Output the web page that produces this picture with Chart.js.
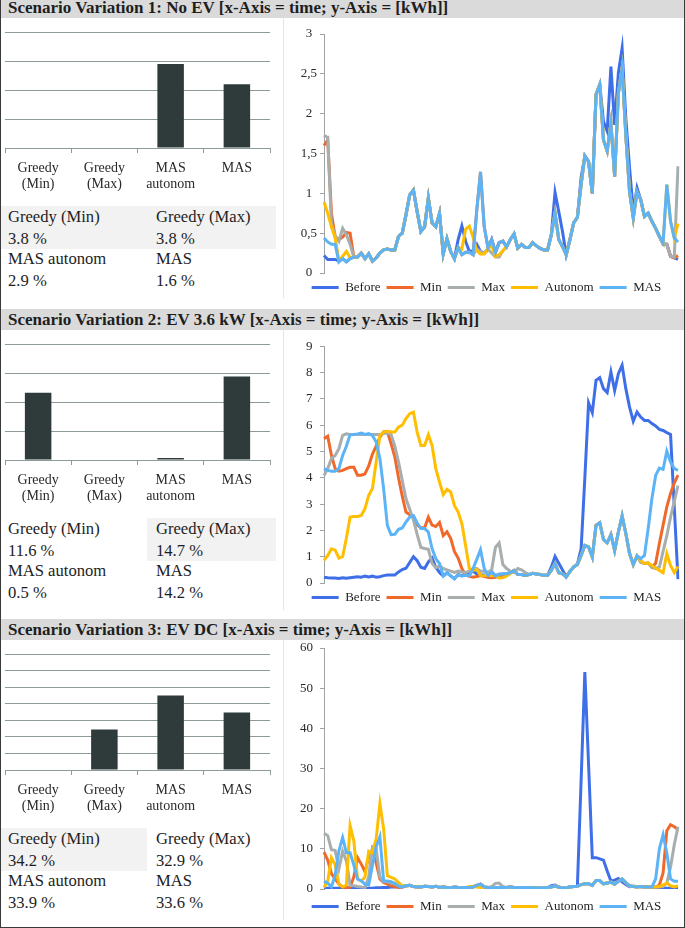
<!DOCTYPE html>
<html>
<head>
<meta charset="utf-8">
<script src="https://cdn.jsdelivr.net/npm/chart.js@4.4.0/dist/chart.umd.min.js"></script>
<style>
  html, body { margin: 0; padding: 0; background: #fff; }
  body { width: 685px; height: 928px; position: relative; overflow: hidden;
         font-family: 'Liberation Serif', serif; color: #1e1e1e; }
  .frame { position: absolute; left: 0; top: -4px; width: 685px; height: 932px;
           border: 1px solid #3a3a3a; box-sizing: border-box; pointer-events: none; z-index: 5; }
  .head { position: absolute; left: 0; width: 685px; background: #dadada;
          font-weight: bold; font-size: 17px; padding-left: 8px; box-sizing: border-box; white-space: nowrap; }
  .shade { position: absolute; background: #f2f2f2; }
  .cell { position: absolute; font-size: 16.6px; line-height: 20px; white-space: nowrap; }
  .rpanel { position: absolute; left: 283px; width: 1px; background: #e6e6e6; }
  canvas { position: absolute; }
</style>
</head>
<body>
<div class="frame"></div>
<div id="page"></div>
<script>
/* ════════════════════════════════════════════════════════════════════
   Scenario variations: share bars + load curves (before / min / max /
   autonom / MAS) for three EV scenarios.
════════════════════════════════════════════════════════════════════ */

const FONT = "'Liberation Serif', serif";

// ── bar chart data ──
const barCats = [['Greedy', '(Min)'], ['Greedy', '(Max)'], ['MAS', 'autonom'], ['MAS']];
const s1Bars = [0, 0, 2.9, 2.2];
const s2Bars = [2.32, 0, 0.07, 2.88];
const s3Bars = [0, 2.45, 4.49, 3.47];

// ── table under the bars ──
const tableNames = ['Greedy (Min)', 'Greedy (Max)', 'MAS autonom', 'MAS'];
const s1Shares = ['3.8 %', '3.8 %', '2.9 %', '1.6 %'];
const s2Shares = ['11.6 %', '14.7 %', '0.5 %', '14.2 %'];
const s3Shares = ['34.2 %', '32.9 %', '33.9 %', '33.6 %'];

// ── load curves, 96 time slots ──
const seriesNames = ['Before', 'Min', 'Max', 'Autonom', 'MAS'];
const seriesColors = ['#3e6fe8', '#f0692b', '#a8adad', '#ffbf00', '#5cb4f6'];

const s1Before = [
  0.22, 0.17, 0.17, 0.17, 0.15, 0.18, 0.14, 0.18, 0.20, 0.20,
  0.25, 0.18, 0.24, 0.15, 0.19, 0.25, 0.29, 0.30, 0.29, 0.29,
  0.46, 0.50, 0.73, 0.98, 1.04, 0.77, 0.52, 0.58, 0.94, 0.63,
  0.58, 0.75, 0.24, 0.43, 0.27, 0.18, 0.42, 0.59, 0.40, 0.27,
  0.28, 0.36, 0.27, 0.25, 0.30, 0.42, 0.26, 0.38, 0.40, 0.33,
  0.42, 0.49, 0.31, 0.36, 0.32, 0.32, 0.38, 0.34, 0.31, 0.29,
  0.29, 0.48, 1.01, 0.77, 0.52, 0.23, 0.42, 0.63, 0.70, 1.20,
  1.47, 1.40, 1.00, 2.24, 2.37, 1.90, 1.78, 2.59, 1.86, 2.51,
  2.82, 1.94, 1.32, 0.77, 1.07, 0.92, 0.71, 0.75, 0.65, 0.56,
  0.46, 0.36, 0.36, 0.21, 0.19, 0.17];
const s1Min = [
  1.60, 1.67, 0.75, 0.45, 0.42, 0.45, 0.51, 0.50, 0.20, 0.20,
  0.25, 0.18, 0.24, 0.15, 0.19, 0.25, 0.29, 0.30, 0.29, 0.29,
  0.46, 0.50, 0.73, 0.98, 1.04, 0.77, 0.52, 0.58, 0.94, 0.63,
  0.58, 0.75, 0.24, 0.43, 0.27, 0.18, 0.32, 0.23, 0.26, 0.26,
  0.23, 0.79, 1.27, 0.58, 0.32, 0.42, 0.26, 0.38, 0.40, 0.33,
  0.42, 0.49, 0.31, 0.36, 0.32, 0.32, 0.38, 0.34, 0.31, 0.29,
  0.29, 0.48, 0.75, 0.42, 0.33, 0.23, 0.42, 0.63, 0.70, 1.11,
  1.47, 1.40, 1.00, 2.24, 2.36, 1.67, 1.53, 1.88, 1.21, 2.26,
  2.57, 1.73, 1.02, 0.69, 1.02, 0.92, 0.71, 0.75, 0.65, 0.56,
  0.46, 0.36, 0.36, 0.21, 0.19, 0.22];
const s1Max = [
  1.73, 1.70, 0.62, 0.47, 0.40, 0.56, 0.48, 0.36, 0.20, 0.20,
  0.25, 0.18, 0.24, 0.15, 0.19, 0.25, 0.29, 0.30, 0.29, 0.29,
  0.46, 0.50, 0.73, 0.98, 1.04, 0.77, 0.52, 0.58, 0.94, 0.63,
  0.58, 0.75, 0.24, 0.43, 0.27, 0.18, 0.32, 0.23, 0.26, 0.26,
  0.23, 0.30, 0.27, 0.25, 0.30, 0.25, 0.20, 0.20, 0.28, 0.33,
  0.42, 0.49, 0.31, 0.36, 0.32, 0.32, 0.38, 0.34, 0.31, 0.29,
  0.29, 0.48, 0.75, 0.42, 0.33, 0.23, 0.42, 0.63, 0.70, 1.11,
  1.47, 1.40, 1.00, 2.24, 2.36, 1.67, 1.53, 1.88, 1.21, 2.26,
  2.57, 1.73, 1.02, 0.69, 1.02, 0.92, 0.71, 0.75, 0.65, 0.56,
  0.46, 0.36, 0.36, 0.21, 0.20, 1.34];
const s1Autonom = [
  0.89, 0.75, 0.58, 0.44, 0.15, 0.21, 0.27, 0.19, 0.20, 0.20,
  0.25, 0.18, 0.24, 0.15, 0.19, 0.25, 0.29, 0.30, 0.29, 0.29,
  0.46, 0.50, 0.73, 0.98, 1.04, 0.77, 0.52, 0.58, 0.94, 0.63,
  0.58, 0.75, 0.24, 0.43, 0.27, 0.18, 0.32, 0.30, 0.55, 0.59,
  0.45, 0.28, 0.24, 0.24, 0.30, 0.35, 0.21, 0.23, 0.28, 0.33,
  0.42, 0.49, 0.31, 0.36, 0.32, 0.32, 0.38, 0.34, 0.31, 0.29,
  0.29, 0.48, 0.75, 0.42, 0.33, 0.23, 0.42, 0.63, 0.70, 1.11,
  1.47, 1.40, 1.00, 2.24, 2.36, 1.67, 1.53, 1.88, 1.21, 2.26,
  2.57, 1.73, 1.02, 0.69, 1.02, 0.92, 0.71, 0.75, 0.65, 0.56,
  0.46, 0.38, 1.11, 0.65, 0.44, 0.62];
const s1Mas = [
  0.44, 0.39, 0.36, 0.36, 0.14, 0.18, 0.14, 0.18, 0.20, 0.20,
  0.25, 0.18, 0.24, 0.15, 0.19, 0.25, 0.29, 0.30, 0.29, 0.29,
  0.46, 0.50, 0.73, 0.98, 1.04, 0.77, 0.52, 0.58, 0.94, 0.63,
  0.58, 0.75, 0.24, 0.43, 0.27, 0.18, 0.32, 0.23, 0.26, 0.26,
  0.23, 0.79, 1.27, 0.58, 0.32, 0.42, 0.26, 0.38, 0.40, 0.33,
  0.42, 0.49, 0.31, 0.36, 0.32, 0.32, 0.38, 0.34, 0.31, 0.29,
  0.29, 0.48, 0.75, 0.42, 0.33, 0.23, 0.42, 0.63, 0.70, 1.11,
  1.47, 1.40, 1.00, 2.24, 2.36, 1.67, 1.53, 1.88, 1.21, 2.26,
  2.57, 1.73, 1.02, 0.69, 1.02, 0.92, 0.71, 0.75, 0.65, 0.56,
  0.46, 0.38, 1.11, 0.65, 0.44, 0.39];

const s2Before = [
  0.22, 0.20, 0.19, 0.19, 0.17, 0.20, 0.18, 0.20, 0.22, 0.24,
  0.22, 0.26, 0.23, 0.26, 0.22, 0.24, 0.28, 0.30, 0.30, 0.30,
  0.42, 0.51, 0.56, 0.78, 1.00, 0.85, 0.60, 0.55, 0.80, 0.95,
  0.60, 0.40, 0.27, 0.39, 0.27, 0.16, 0.32, 0.27, 0.35, 0.40,
  0.45, 0.35, 0.30, 0.30, 0.29, 0.42, 0.27, 0.33, 0.34, 0.35,
  0.39, 0.48, 0.32, 0.32, 0.29, 0.32, 0.37, 0.34, 0.32, 0.29,
  0.29, 0.60, 1.01, 0.75, 0.50, 0.23, 0.44, 0.61, 0.72, 1.30,
  4.00, 6.85, 6.48, 7.71, 7.81, 7.39, 7.24, 8.02, 7.32, 7.96,
  8.28, 7.39, 6.69, 6.15, 6.50, 6.31, 6.18, 6.18, 6.06, 5.97,
  5.84, 5.80, 5.72, 5.65, 2.90, 0.15];
const s2Min = [
  5.49, 5.58, 4.85, 4.35, 4.25, 4.28, 4.35, 4.40, 4.40, 4.10,
  4.10, 4.15, 4.45, 4.90, 5.20, 5.55, 5.75, 5.75, 5.30, 4.80,
  4.00, 3.30, 2.70, 2.60, 2.55, 2.20, 2.10, 2.10, 2.50, 2.20,
  2.15, 2.30, 1.80, 1.95, 1.70, 1.20, 0.95, 0.55, 0.30, 0.25,
  0.22, 0.25, 0.28, 0.25, 0.22, 0.20, 0.22, 0.25, 0.30, 0.33,
  0.39, 0.48, 0.32, 0.32, 0.29, 0.32, 0.37, 0.34, 0.32, 0.29,
  0.29, 0.48, 0.74, 0.39, 0.35, 0.23, 0.44, 0.61, 0.70, 1.05,
  1.43, 1.37, 0.99, 2.19, 2.29, 1.66, 1.53, 1.84, 1.24, 1.94,
  2.55, 1.88, 1.12, 0.70, 1.03, 0.80, 0.74, 0.76, 0.60, 0.75,
  1.50, 2.20, 2.90, 3.40, 3.80, 4.10];
const s2Max = [
  4.09, 4.35, 4.73, 4.85, 5.11, 5.61, 5.67, 5.65, 5.65, 5.65,
  5.65, 5.65, 5.65, 5.65, 5.65, 5.65, 5.68, 5.70, 5.65, 5.20,
  4.60, 3.90, 3.20, 2.80, 2.40, 1.85, 1.35, 1.31, 1.28, 0.75,
  0.58, 0.65, 0.55, 0.50, 0.45, 0.40, 0.45, 0.42, 0.40, 0.45,
  0.55, 0.55, 0.45, 0.45, 0.40, 0.50, 1.35, 1.52, 0.70, 0.55,
  0.45, 0.40, 0.55, 0.50, 0.40, 0.32, 0.37, 0.34, 0.32, 0.29,
  0.29, 0.48, 0.74, 0.39, 0.35, 0.23, 0.44, 0.61, 0.70, 1.05,
  1.43, 1.37, 0.99, 2.19, 2.29, 1.66, 1.53, 1.84, 1.24, 1.94,
  2.55, 1.88, 1.12, 0.70, 1.03, 0.80, 0.74, 0.76, 0.60, 0.55,
  0.60, 1.20, 1.80, 2.50, 3.10, 3.70];
const s2Autonom = [
  0.86, 1.05, 1.30, 1.25, 0.95, 1.00, 1.70, 2.51, 2.53, 2.53,
  2.57, 2.83, 3.33, 3.59, 4.60, 5.61, 5.74, 5.77, 5.74, 5.74,
  5.93, 6.00, 6.25, 6.44, 6.50, 5.74, 5.23, 5.23, 5.64, 5.23,
  4.35, 3.84, 3.36, 3.56, 3.46, 2.95, 2.70, 2.26, 1.43, 0.55,
  0.48, 0.52, 0.29, 0.27, 0.32, 0.27, 0.29, 0.19, 0.20, 0.27,
  0.35, 0.48, 0.32, 0.32, 0.29, 0.32, 0.37, 0.34, 0.32, 0.29,
  0.29, 0.48, 0.74, 0.39, 0.35, 0.23, 0.44, 0.61, 0.70, 1.05,
  1.43, 1.37, 0.99, 2.19, 2.29, 1.66, 1.53, 1.84, 1.24, 1.94,
  2.55, 1.88, 1.12, 0.70, 1.03, 0.86, 0.74, 0.76, 0.67, 0.57,
  0.48, 0.39, 1.12, 0.67, 0.39, 0.63];
const s2Mas = [
  4.35, 4.28, 4.25, 4.25, 4.35, 4.85, 5.20, 5.64, 5.65, 5.67,
  5.70, 5.65, 5.68, 5.61, 5.36, 4.73, 3.59, 2.19, 1.84, 1.85,
  2.04, 2.09, 2.32, 2.51, 2.56, 2.28, 2.07, 2.07, 1.94, 1.31,
  0.93, 0.74, 0.27, 0.39, 0.27, 0.16, 0.32, 0.27, 0.29, 0.27,
  0.55, 0.90, 1.27, 0.55, 0.29, 0.42, 0.27, 0.33, 0.34, 0.35,
  0.39, 0.48, 0.32, 0.32, 0.29, 0.32, 0.37, 0.34, 0.32, 0.29,
  0.29, 0.48, 0.74, 0.39, 0.35, 0.23, 0.44, 0.61, 0.70, 1.05,
  1.43, 1.37, 0.99, 2.19, 2.29, 1.66, 1.53, 1.84, 1.24, 1.94,
  2.55, 1.88, 1.12, 0.70, 1.03, 0.93, 1.05, 2.07, 3.21, 4.09,
  4.37, 4.32, 5.01, 4.60, 4.35, 4.28];

const s3Before = [
  0.2, 0.2, 0.2, 0.2, 0.2, 0.2, 0.2, 0.2, 0.2, 0.2,
  0.2, 0.2, 0.2, 0.2, 0.3, 0.3, 0.4, 0.4, 0.5, 0.5,
  0.6, 0.5, 0.8, 0.9, 0.6, 0.5, 0.5, 0.7, 0.6, 0.5,
  0.7, 0.4, 0.5, 0.4, 0.3, 0.5, 0.4, 0.3, 0.4, 0.4,
  0.5, 0.9, 1.2, 0.5, 0.4, 0.3, 0.4, 0.4, 0.4, 0.4,
  0.5, 0.4, 0.4, 0.3, 0.4, 0.4, 0.3, 0.3, 0.3, 0.3,
  0.3, 0.8, 1.0, 0.5, 0.3, 0.3, 0.5, 0.6, 0.7, 27.0,
  54.0, 31.0, 7.8, 7.8, 7.5, 7.2, 4.5, 2.0, 2.2, 2.6,
  1.8, 1.1, 0.6, 0.7, 0.6, 0.6, 0.5, 0.5, 0.5, 0.4,
  0.3, 0.2, 0.2, 0.2, 0.2, 0.2];
const s3Min = [
  9.2, 7.2, 3.8, 2.5, 1.2, 0.5, 0.4, 0.5, 3.0, 7.8,
  6.2, 4.3, 8.0, 9.3, 6.5, 2.5, 1.6, 1.2, 0.8, 0.6,
  0.4, 0.5, 0.8, 0.9, 0.6, 0.5, 0.5, 0.7, 0.6, 0.5,
  0.7, 0.4, 0.5, 0.4, 0.3, 0.5, 0.4, 0.3, 0.4, 0.4,
  0.5, 0.9, 1.2, 0.5, 0.4, 0.3, 0.4, 0.4, 0.4, 0.4,
  0.5, 0.4, 0.4, 0.3, 0.4, 0.4, 0.3, 0.3, 0.3, 0.3,
  0.3, 0.5, 0.8, 0.4, 0.3, 0.3, 0.5, 0.6, 0.7, 1.1,
  1.3, 1.3, 0.9, 2.1, 2.1, 1.3, 1.5, 1.7, 1.2, 1.9,
  2.5, 1.6, 0.8, 0.6, 0.5, 0.6, 0.5, 0.5, 0.5, 0.5,
  1.0, 4.0, 14.5, 16.0, 15.5, 14.8];
const s3Max = [
  13.9, 13.3, 9.8, 9.6, 5.0, 9.4, 7.0, 0.9, 0.8, 0.6,
  0.5, 0.4, 3.0, 10.5, 10.0, 3.0, 1.8, 1.8, 1.5, 1.2,
  0.8, 0.7, 0.8, 0.9, 0.6, 0.5, 0.5, 0.7, 0.6, 0.5,
  0.7, 0.4, 0.5, 0.4, 0.3, 0.5, 0.4, 0.3, 0.4, 0.4,
  0.5, 0.9, 1.2, 0.5, 0.4, 0.6, 1.4, 1.5, 0.6, 0.4,
  0.5, 0.4, 0.4, 0.3, 0.4, 0.4, 0.3, 0.3, 0.3, 0.3,
  0.3, 0.5, 0.8, 0.4, 0.3, 0.3, 0.5, 0.6, 0.7, 1.1,
  1.3, 1.3, 0.9, 2.1, 2.1, 1.3, 1.5, 1.7, 1.2, 1.9,
  2.5, 1.6, 0.8, 0.6, 0.5, 0.6, 0.5, 0.5, 0.5, 0.5,
  0.5, 0.6, 1.5, 5.5, 11.0, 15.5];
const s3Autonom = [
  0.4, 2.0, 7.8, 6.0, 1.2, 0.5, 1.0, 15.8, 12.0, 2.5,
  2.0, 3.0, 9.4, 9.0, 12.5, 21.3, 15.0, 3.3, 2.9, 2.5,
  1.6, 0.7, 0.8, 0.9, 0.6, 0.5, 0.5, 0.7, 0.6, 0.5,
  0.7, 0.4, 0.5, 0.4, 0.3, 0.5, 0.4, 0.3, 0.4, 0.6,
  0.7, 0.5, 0.4, 0.5, 0.4, 0.3, 0.4, 0.4, 0.4, 0.4,
  0.5, 0.4, 0.4, 0.3, 0.4, 0.4, 0.3, 0.3, 0.3, 0.3,
  0.3, 0.5, 0.8, 0.4, 0.3, 0.3, 0.5, 0.6, 0.7, 1.1,
  1.3, 1.3, 0.9, 2.1, 2.1, 1.3, 1.5, 1.7, 1.2, 1.9,
  2.5, 1.6, 0.8, 0.6, 0.5, 0.6, 0.5, 0.5, 0.5, 0.5,
  0.6, 1.0, 1.5, 0.8, 0.5, 0.8];
const s3Mas = [
  1.9, 1.5, 0.5, 3.5, 9.5, 12.8, 9.0, 9.0, 6.0, 2.5,
  2.0, 1.2, 1.0, 6.0, 10.5, 13.0, 2.0, 2.0, 1.8, 1.4,
  0.7, 0.5, 0.8, 0.9, 0.6, 0.5, 0.5, 0.7, 0.6, 0.5,
  0.7, 0.4, 0.5, 0.4, 0.3, 0.5, 0.4, 0.3, 0.4, 0.4,
  0.5, 0.9, 1.2, 0.5, 0.4, 0.3, 0.4, 0.4, 0.4, 0.4,
  0.5, 0.4, 0.4, 0.3, 0.4, 0.4, 0.3, 0.3, 0.3, 0.3,
  0.3, 0.5, 0.8, 0.4, 0.3, 0.3, 0.5, 0.6, 0.7, 1.1,
  1.3, 1.3, 0.9, 2.1, 2.1, 1.3, 1.5, 1.7, 1.2, 1.9,
  2.5, 1.6, 0.8, 0.6, 0.5, 0.6, 0.5, 0.5, 0.5, 2.5,
  10.0, 13.5, 9.0, 2.5, 1.9, 1.9];

const slots = s1Mas.map((_, i) => i + 1);

// layout per section (top = y of the grey title bar)
const SECTIONS = [
  { top: -3, title: 'Scenario Variation 1: No EV [x-Axis = time; y-Axis = [kWh]]',
    bars: s1Bars, barMax: 4, shares: s1Shares, shade: [0, 276],
    lines: [s1Before, s1Min, s1Max, s1Autonom, s1Mas], yMax: 3, yStep: 0.5,
    lineTop: 22, linePad: 15, gap: 2, lineH: 285, tickAlign: 'center', tickPad: 3 },
  { top: 309, title: 'Scenario Variation 2: EV 3.6 kW [x-Axis = time; y-Axis = [kWh]]',
    bars: s2Bars, barMax: 4, shares: s2Shares, shade: [147, 129],
    lines: [s2Before, s2Min, s2Max, s2Autonom, s2Mas], yMax: 9, yStep: 1,
    lineTop: 22, linePad: 15, gap: 2, lineH: 283, tickAlign: 'near', tickPad: 7.5 },
  { top: 619, title: 'Scenario Variation 3: EV DC [x-Axis = time; y-Axis = [kWh]]',
    bars: s3Bars, barMax: 7, shares: s3Shares, shade: [0, 147],
    lines: [s3Before, s3Min, s3Max, s3Autonom, s3Mas], yMax: 60, yStep: 10,
    lineTop: 14, linePad: 15, gap: 5, lineH: 290, tickAlign: 'near', tickPad: 7 },
];

const GRID = '#8d9b9b';
const AXIS = '#9fa3a3';

function buildSection(sec) {
  const page = document.getElementById('page');
  const T = sec.top;

  // ── title bar ──
  const head = document.createElement('div');
  head.className = 'head';
  head.style.top = T + 'px';
  head.style.height = '21px';
  head.style.lineHeight = '22px';
  head.textContent = sec.title;
  page.appendChild(head);

  const rp = document.createElement('div');
  rp.className = 'rpanel';
  rp.style.top = (T + 21) + 'px';
  rp.style.height = '280px';
  page.appendChild(rp);

  // ── share table ──
  const shade = document.createElement('div');
  shade.className = 'shade';
  shade.style.left = sec.shade[0] + 'px';
  shade.style.width = sec.shade[1] + 'px';
  shade.style.top = (T + 209) + 'px';
  shade.style.height = '43px';
  page.appendChild(shade);

  const colX = [8, 156];
  const rowY = [210, 232, 252, 274];
  tableNames.forEach((name, k) => {
    const col = k % 2, row = Math.floor(k / 2);
    const a = document.createElement('div');
    a.className = 'cell';
    a.style.left = colX[col] + 'px';
    a.style.top = (T + rowY[row * 2]) + 'px';
    a.textContent = name;
    const b = document.createElement('div');
    b.className = 'cell';
    b.style.left = colX[col] + 'px';
    b.style.top = (T + rowY[row * 2 + 1]) + 'px';
    b.textContent = sec.shares[k];
    page.appendChild(a);
    page.appendChild(b);
  });

  // ── 1. share bars ──
  const bc = document.createElement('canvas');
  bc.width = 276; bc.height = 174;
  bc.style.left = '0px'; bc.style.top = (T + 25) + 'px';
  bc.style.width = '276px'; bc.style.height = '174px';
  page.appendChild(bc);
  new Chart(bc, {
    type: 'bar',
    data: {
      labels: barCats,
      datasets: [{ data: sec.bars, backgroundColor: '#2f3a3a',
                   barPercentage: 0.4, categoryPercentage: 1 }]
    },
    options: {
      responsive: false, animation: false,
      layout: { padding: { top: 10, left: 5, right: 6, bottom: 0 } },
      plugins: { legend: { display: false }, tooltip: { enabled: false } },
      scales: {
        y: { min: 0, max: sec.barMax, ticks: { stepSize: 1, display: false },
             grid: { color: GRID, drawTicks: false }, border: { display: false },
             afterFit: s => { s.width = 0; } },
        x: { grid: { display: true, drawOnChartArea: false, offset: true, tickLength: 5, color: GRID },
             border: { display: true, color: GRID },
             ticks: { color: '#2a2a2a', padding: 7, maxRotation: 0, autoSkip: false,
                      font: { family: FONT, size: 14, lineHeight: 1.15 } },
             afterFit: s => { s.height = 48; } }
      }
    }
  });

  // ── 2. load curves ──
  const lc = document.createElement('canvas');
  lc.width = 388; lc.height = sec.lineH;
  lc.style.left = '295px'; lc.style.top = (T + sec.lineTop) + 'px';
  lc.style.width = '388px'; lc.style.height = sec.lineH + 'px';
  page.appendChild(lc);

  // MAS first so it is drawn on top; legend reversed back to Before..MAS
  const ds = seriesNames.map((n, k) => ({
    label: n, data: sec.lines[k],
    borderColor: seriesColors[k], backgroundColor: seriesColors[k],
    borderWidth: 3, pointRadius: 0, tension: 0, fill: false,
  })).reverse();

  new Chart(lc, {
    type: 'line',
    data: { labels: slots, datasets: ds },
    options: {
      responsive: false, animation: false,
      layout: { padding: { top: sec.linePad, right: 5, left: 0, bottom: 0 } },
      plugins: {
        tooltip: { enabled: false },
        legend: { position: 'bottom', reverse: true,
          labels: { boxWidth: 27, boxHeight: 0, padding: 6, color: '#1e1e1e',
                    font: { family: FONT, size: 13 } } }
      },
      scales: {
        x: { display: true, grid: { display: false }, border: { display: false },
             ticks: { display: false }, afterFit: s => { s.height = sec.gap; } },
        y: { min: 0, max: sec.yMax,
             ticks: { stepSize: sec.yStep, color: '#2a2a2a', padding: sec.tickPad,
                      crossAlign: sec.tickAlign, font: { family: FONT, size: 13 },
                      callback: v => String(v).replace('.', ',') },
             grid: { drawOnChartArea: false, tickLength: 4, color: AXIS },
             border: { color: AXIS },
             afterFit: s => { s.width = 29; } }
      }
    }
  });
}

SECTIONS.forEach(buildSection);
</script>
</body>
</html>
